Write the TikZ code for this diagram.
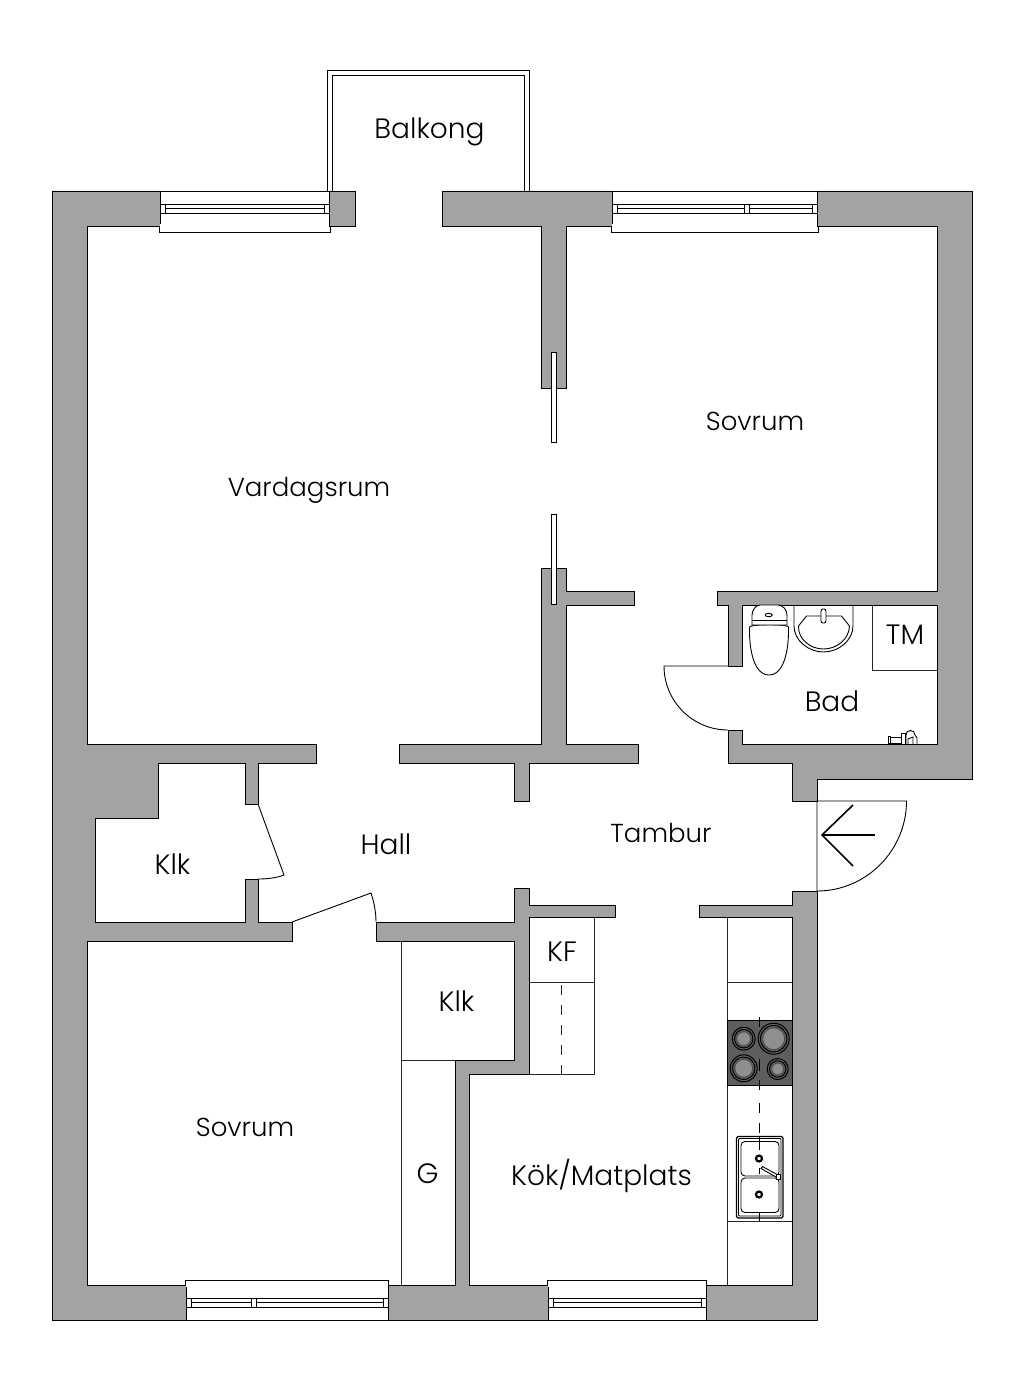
\documentclass[tikz,border=0pt]{standalone}
\usepackage{fontspec}
\setmainfont{Poppins}[UprightFont=* Light]
\tikzset{
	wall/.style={draw=black,fill=wallgrey,line width=0.8pt,line join=miter},
	thin/.style={draw=black!85,line width=0.9pt},
	pane/.style={draw=black,fill=white,line width=0.9pt},
	fixture/.style={draw=black,line width=0.9pt},
	room/.style={anchor=base,inner sep=0pt,font=\fontsize{28}{28}\selectfont},
	roomwide/.style={anchor=base,inner sep=0pt,font=\fontsize{26}{26}\selectfont},
}
\definecolor{wallgrey}{HTML}{A3A3A3}
\definecolor{hobgrey}{HTML}{5E5E5E}
\definecolor{ringgrey}{HTML}{8F8F8F}
\begin{document}
\begin{tikzpicture}[x=1pt,y=-1pt]
	\useasboundingbox (0,0) rectangle (1024,1391);

	% balcony
	\draw[fixture,line width=1pt] (327,191) -- (327,70.5) -- (529,70.5) -- (529,191);
	\draw[fixture,line width=1pt] (332,191) -- (332,75.5) -- (524,75.5) -- (524,191);

	% fitted cupboards and kitchen
	\draw[thin] (529,917) rectangle (594,1074);
	\draw[thin] (529,982) -- (594,982);
	\draw[thin,dash pattern=on 10pt off 10pt] (561.5,985) -- (561.5,1074);
	\draw[thin] (401,941) -- (401,1285);
	\draw[thin] (401,1060) -- (455,1060);
	\draw[thin] (727,917) -- (727,1285);
	\draw[thin] (727,982) -- (792,982);
	\draw[thin] (727,1221) -- (792,1221);
	\draw[thin] (872,605) -- (872,670) -- (937,670);

	% walls
	\draw[wall] (52,191) -- (160,191) -- (160,226) -- (87,226) -- (87,744) -- (316,744)
		-- (316,763) -- (258,763) -- (258,804) -- (245,804) -- (245,763) -- (158,763)
		-- (158,818) -- (95,818) -- (95,922) -- (245,922) -- (245,879) -- (258,879)
		-- (258,922) -- (292,922) -- (292,941) -- (87,941) -- (87,1285) -- (186,1285)
		-- (186,1320) -- (52,1320) -- cycle;
	\draw[wall] (329,191) -- (355,191) -- (355,226) -- (329,226) -- cycle;
	\draw[wall] (442,191) -- (612,191) -- (612,226) -- (566,226) -- (566,388) -- (541,388)
		-- (541,226) -- (442,226) -- cycle;
	\draw[wall] (817,191) -- (972,191) -- (972,779) -- (817,779) -- (817,801) -- (792,801)
		-- (792,763) -- (728,763) -- (728,730) -- (742,730) -- (742,744) -- (937,744)
		-- (937,605) -- (742,605) -- (742,666) -- (728,666) -- (728,605) -- (717,605)
		-- (717,591) -- (937,591) -- (937,226) -- (817,226) -- cycle;
	\draw[wall] (541,568) -- (566,568) -- (566,591) -- (634,591) -- (634,605) -- (566,605)
		-- (566,744) -- (638,744) -- (638,763) -- (529,763) -- (529,801) -- (514,801)
		-- (514,763) -- (399,763) -- (399,744) -- (541,744) -- cycle;
	\draw[wall] (388,1285) -- (455,1285) -- (455,1060) -- (514,1060) -- (514,941) -- (376,941)
		-- (376,922) -- (514,922) -- (514,888) -- (529,888) -- (529,905) -- (615,905)
		-- (615,917) -- (529,917) -- (529,1074) -- (469,1074) -- (469,1285) -- (548,1285)
		-- (548,1320) -- (388,1320) -- cycle;
	\draw[wall] (706,1320) -- (817,1320) -- (817,891) -- (792,891) -- (792,905) -- (699,905)
		-- (699,917) -- (792,917) -- (792,1285) -- (706,1285) -- cycle;

	% windows, top
	\foreach \xa/\xb in {160/329,612/817}{
		\draw[pane] (\xa,191) rectangle (\xb,226);
		\draw[pane] (\xa-1,226) rectangle (\xb+1,232);
		\fill[white] (\xa-0.4,224) rectangle (\xb+0.4,227.5);
		\draw[thin,draw=black] (\xa,204) rectangle (\xb,213.5);
		\draw[thin,draw=black] (\xa+5,208.5) -- (\xb-5,208.5);
		\draw[thin,draw=black] (\xa+5,204) -- (\xa+5,213.5);
		\draw[thin,draw=black] (\xb-5,204) -- (\xb-5,213.5);
	}
	\draw[thin,draw=black,fill=white] (744,204) rectangle (749,213.5);

	% windows, bottom
	\foreach \xa/\xb in {186/388,548/706}{
		\draw[pane] (\xa,1285) rectangle (\xb,1320);
		\draw[pane] (\xa-0.5,1280) rectangle (\xb+0.5,1285);
		\fill[white] (\xa-0.1,1283) rectangle (\xb+0.1,1287);
		\draw[thin,draw=black] (\xa,1298) rectangle (\xb,1307.5);
		\draw[thin,draw=black] (\xa+5,1302.5) -- (\xb-5,1302.5);
		\draw[thin,draw=black] (\xa+5,1298) -- (\xa+5,1307.5);
		\draw[thin,draw=black] (\xb-5,1298) -- (\xb-5,1307.5);
	}
	\draw[thin,draw=black,fill=white] (251,1298) rectangle (256,1307.5);

	% sliding doors
	\draw[pane] (551,352) rectangle (556.5,442);
	\draw[pane] (551,514) rectangle (556.5,604);

	% swing doors
	\draw[fixture] (258,804) -- (284,875) .. controls (276,878) and (267,879) .. (258,879);
	\draw[fixture] (292,922) -- (371,893) .. controls (374,902) and (376,912) .. (376,922);
	\draw[fixture] (728,666) -- (664,666) .. controls (664,701.3) and (692.7,730) .. (728,730);
	\draw[fixture] (817,801) -- (906.5,801) .. controls (906.5,850.4) and (866.4,891) .. (817,891) -- cycle;

	% entrance arrow
	\coordinate (tip) at (822,835);
	\coordinate (tail) at (875,835);
	\coordinate (barbup) at (853,805);
	\coordinate (barbdown) at (853,866);
	\draw[line width=1.6pt] (tail) -- (tip);
	\draw[line width=1.6pt] (barbup) -- (tip) -- (barbdown);

	% hob
	\draw[draw=black,fill=hobgrey,line width=0.9pt] (727,1020) rectangle (792,1085);
	\foreach \cx/\cy/\rr in {743.7/1038.7/11.5,773.7/1038.7/15.5,743.7/1068.3/13.5,777.7/1069/10.5}{
		\draw[black,fill=hobgrey,line width=1pt] (\cx,\cy) circle (\rr);
		\draw[black,fill=hobgrey,line width=1pt] (\cx,\cy) circle (\rr-2.3);
		\draw[black!70,fill=ringgrey,line width=0.8pt] (\cx,\cy) circle (\rr-4.6);
	}
	\draw[thin,draw=black] (759,1017) -- (759,1027);
	\draw[thin,draw=black] (759,1059) -- (759,1071);
	\draw[thin,draw=black] (759,1080) -- (759,1090);
	\draw[thin,draw=black,dash pattern=on 10pt off 10pt] (759,1103) -- (759,1136);

	% kitchen sink
	\draw[fixture,rounded corners=1.5pt,line width=1.1pt] (736.5,1136.5) rectangle (783,1218);
	\draw[fixture,rounded corners=1pt] (738.5,1138.5) rectangle (781,1216);
	\draw[fixture,rounded corners=4pt] (741,1141.5) rectangle (779,1176);
	\draw[fixture,rounded corners=4pt] (741,1178) rectangle (779,1212.5);
	\foreach \cy in {1158.5,1194.5}{
		\draw[black,fill=white,line width=2.2pt] (759,\cy) circle (3);
	}
	\draw[thin,draw=black] (759,1136) -- (759,1150);
	\draw[thin,draw=black] (759,1168) -- (759,1174);
	\draw[thin,draw=black] (759,1212) -- (759,1221);
	\draw[fixture,fill=white] (761,1168.5) -- (762.5,1166.5) -- (778,1175) -- (777,1177.5) -- cycle;
	\draw[fixture,fill=white] (776,1174.5) rectangle (780,1179);

	% toilet
	\draw[fixture] (749.5,627) .. controls (749,650) and (754,675) .. (769,675)
		.. controls (784,675) and (789,650) .. (788.5,627)
		.. controls (788,624) and (751,624) .. (749.5,627) -- cycle;
	\draw[fixture,fill=white] (752,625) -- (752,615) .. controls (752,610) and (756,605) .. (760,605)
		-- (778,605) .. controls (783,605) and (787,610) .. (787,615) -- (787,625) -- cycle;
	\draw[fixture] (752,620) -- (787,620);
	\draw[fixture] (768.7,615) ellipse (3.5 and 1.7);

	% washbasin
	\draw[fixture] (794,605) -- (794,626) .. controls (794,640) and (808,652) .. (823.5,652)
		.. controls (839,652) and (853,640) .. (853,626) -- (853,605);
	\draw[fixture] (798.5,626) -- (806.5,616) -- (841.5,616) -- (849.5,626)
		.. controls (849,640) and (836,649) .. (823.5,649)
		.. controls (811,649) and (798,640) .. (798.5,626) -- cycle;
	\draw[fixture,fill=white,rounded corners=2pt] (821,609) rectangle (826,623);

	% shower fitting
	\draw[fixture] (888.5,736) rectangle (890.5,743);
	\draw[fixture] (890.5,737.5) rectangle (901,743);
	\draw[fixture] (901,733) rectangle (905,744);
	\draw[fixture] (906,744) -- (906,735) .. controls (906,729) and (915,729) .. (915,735)
		-- (917,738) -- (917,744);
	\draw[fixture] (908,744) -- (908,739) -- (913,737) -- (913,744);

	% labels
	\node[room] (balkong) at (429.5,139) {Balkong};
	\node[roomwide] (sovrumtop) at (755,430.5) {Sovrum};
	\node[roomwide] (vardagsrum) at (309,496) {Vardagsrum};
	\node[room] (tm) at (905,644.5) {TM};
	\node[room] (bad) at (832,711) {Bad};
	\node[room] (hall) at (386,854) {Hall};
	\node[roomwide] (tambur) at (661,842) {Tambur};
	\node[room] (klkleft) at (172.5,874) {Klk};
	\node[room] (klkmid) at (456.5,1011.5) {Klk};
	\node[room] (kf) at (562,961) {KF};
	\node[roomwide] (sovrumlow) at (245,1136) {Sovrum};
	\node[room] (g) at (427.5,1183) {G};
	\node[room] (kok) at (601.5,1185) {Kök/Matplats};
\end{tikzpicture}
\end{document}
